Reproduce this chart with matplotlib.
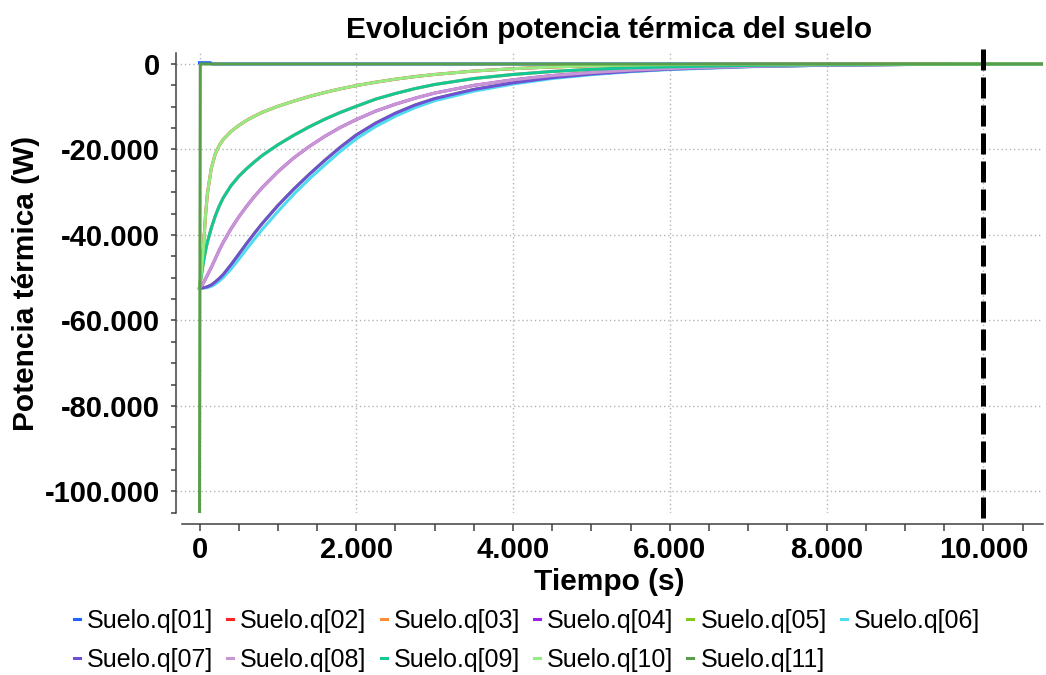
import matplotlib
matplotlib.use("Agg")
import matplotlib.pyplot as plt
from matplotlib.ticker import FuncFormatter, MultipleLocator

plt.rcParams["font.family"] = ["Liberation Sans", "DejaVu Sans"]
plt.rcParams["font.weight"] = "bold"

# sample times (s) shared by the layer curves
TIME = [0, 25, 50, 75, 100, 150, 200, 250, 300, 400, 500, 600, 700, 800, 1000,
        1200, 1400, 1600, 1800, 2000, 2250, 2500, 2750, 3000, 3500, 4000, 4500,
        5000, 5500, 6000, 7000, 8000, 9000, 10000, 10770]

# thermal power per layer (W), symmetric layers share the same response
Q10 = [-52400, -48300, -42800, -35800, -30400, -24400, -21100, -19100, -17700,
       -15800, -14400, -13200, -12200, -11300, -9900, -8700, -7600, -6650,
       -5800, -5050, -4250, -3550, -2950, -2450, -1650, -1100, -700, -420,
       -250, -150, -60, -25, -10, 0, 0]
Q09 = [-52400, -49300, -46300, -43800, -41700, -38400, -35600, -33300, -31400,
       -28500, -26300, -24500, -22900, -21400, -18900, -16700, -14700, -12900,
       -11300, -9900, -8200, -6900, -5750, -4800, -3400, -2450, -1750, -1250,
       -900, -650, -330, -160, -75, -35, -15]
Q08 = [-52400, -51900, -51200, -50300, -49400, -47600, -45600, -43600, -41800,
       -38600, -35800, -33300, -31000, -28900, -25200, -22000, -19300, -16900,
       -14800, -13000, -11000, -9400, -8000, -6800, -5000, -3700, -2700, -2000,
       -1450, -1050, -550, -250, -110, -40, -20]
Q07 = [-52400, -52400, -52350, -52250, -52100, -51700, -51000, -50200, -49300,
       -47000, -44500, -42000, -39600, -37300, -33100, -29300, -25800, -22500,
       -19400, -16600, -13800, -11500, -9600, -8100, -5950, -4400, -3200,
       -2350, -1700, -1200, -600, -280, -120, -50, -20]
Q06 = [-52400, -52400, -52400, -52350, -52300, -52000, -51500, -50800, -50000,
       -48000, -45700, -43300, -41000, -38700, -34500, -30500, -26900, -23600,
       -20400, -17500, -14600, -12200, -10200, -8600, -6350, -4700, -3400,
       -2500, -1800, -1300, -650, -300, -130, -55, -25]
Q05 = Q07
Q04 = Q08
Q03 = Q09
Q02 = Q10

# outer layers: short transient at the start
TIME_01 = [0, 140, 160, 10770]
Q01 = [300, 300, 0, 0]
TIME_11 = [0, 10, 10770]
Q11 = [-105000, 0, 0]

LABELS = [f"Suelo.q[{i:02d}]" for i in range(1, 12)]
COLORS = ["#1e64ff", "#ff2020", "#ff8c32", "#9b1fe8", "#82c81e", "#50dcf0",
          "#7050d2", "#c896d2", "#14c896", "#96eb82", "#5a9e4b"]
SERIES = [(TIME_01, Q01), (TIME, Q02), (TIME, Q03), (TIME, Q04), (TIME, Q05),
          (TIME, Q06), (TIME, Q07), (TIME, Q08), (TIME, Q09), (TIME, Q10),
          (TIME_11, Q11)]

END_TIME = 10000


def thousands(value, _pos):
    return f"{int(round(value)):,}".replace(",", ".")


fig = plt.figure(figsize=(10.46, 6.75), dpi=100)
ax = fig.add_axes([176 / 1046, 162 / 675, 867 / 1046, 460 / 675])

handles = []
for (t, q), label, color in zip(SERIES, LABELS, COLORS):
    line, = ax.plot(t, q, color=color, lw=2.2, label=label)
    handles.append(line)

# end of simulation marker
ax.plot([END_TIME, END_TIME], [1.009, -0.02], transform=ax.get_xaxis_transform(),
        color="black", lw=3.6, dashes=(4.2, 1.4), clip_on=False)

ax.set_xlim(-300, 10760)
ax.set_ylim(-105030, 2570)

ax.xaxis.set_major_locator(MultipleLocator(2000))
ax.xaxis.set_minor_locator(MultipleLocator(500))
ax.yaxis.set_major_locator(MultipleLocator(20000))
ax.yaxis.set_minor_locator(MultipleLocator(5000))
ax.xaxis.set_major_formatter(FuncFormatter(thousands))
ax.yaxis.set_major_formatter(FuncFormatter(thousands))

ax.grid(True, which="major", color="#b4b4b4", lw=1, linestyle=(0, (1, 2)))
ax.set_axisbelow(True)

for side in ("top", "right"):
    ax.spines[side].set_visible(False)
for side in ("left", "bottom"):
    ax.spines[side].set_color("#404040")
    ax.spines[side].set_linewidth(1.1)
ax.spines["bottom"].set_position(("outward", 8))
ax.spines["bottom"].set_bounds(-220, 10760)

ax.tick_params(axis="both", which="both", direction="out", colors="#404040",
               width=1.1, labelsize=21, labelcolor="black")
ax.tick_params(axis="y", which="both", length=3.6, pad=8)
ax.tick_params(axis="x", which="both", length=5, pad=3.5)

ax.set_title("Evolución potencia térmica del suelo", fontsize=21.5,
             fontweight="bold", pad=11)
ax.set_xlabel("Tiempo (s)", fontsize=21.5, fontweight="bold", labelpad=3)
ax.set_ylabel("Potencia térmica (W)", fontsize=21.5, fontweight="bold",
              labelpad=3)

# row-major order for a 6-column legend
order = [0, 6, 1, 7, 2, 8, 3, 9, 4, 10, 5]
fig.legend([handles[i] for i in order], [LABELS[i] for i in order],
           loc="upper left", bbox_to_anchor=(74 / 1046, 1 - 609 / 675),
           ncol=6, frameon=False, borderpad=0, borderaxespad=0,
           prop={"size": 18, "weight": "normal"}, handlelength=0.24,
           handletextpad=0.28, columnspacing=0.56, labelspacing=0.6)

fig.savefig("out.png", dpi=100)
